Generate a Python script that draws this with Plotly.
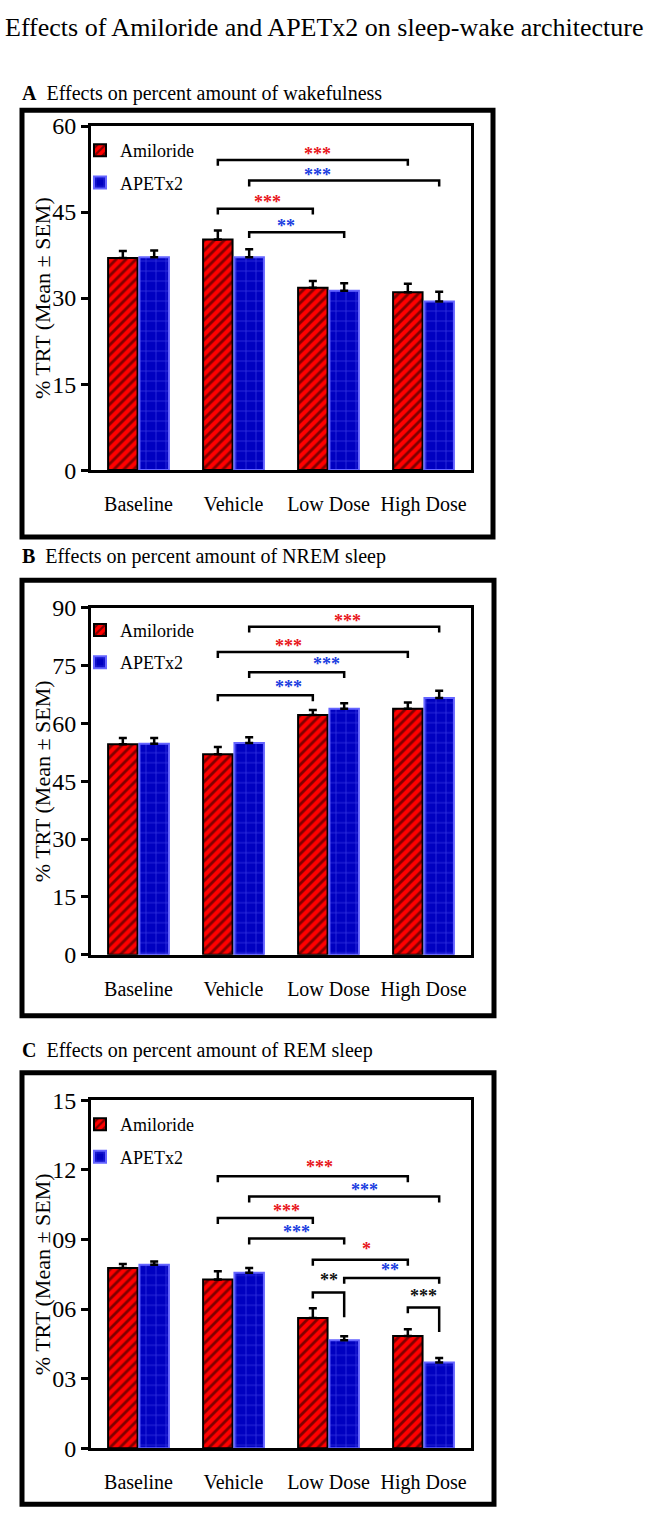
import plotly.graph_objects as go

# ---------------- data ----------------
categories = ["Baseline", "Vehicle", "Low Dose", "High Dose"]
series_names = ["Amiloride", "APETx2"]

wake_amiloride = [37.0, 40.2, 31.8, 31.0]
wake_amiloride_sem = [1.2, 1.6, 1.2, 1.5]
wake_apetx2 = [37.1, 37.1, 31.3, 29.4]
wake_apetx2_sem = [1.2, 1.4, 1.3, 1.7]

nrem_amiloride = [54.6, 52.0, 62.2, 63.8]
nrem_amiloride_sem = [1.6, 1.9, 1.3, 1.6]
nrem_apetx2 = [54.7, 54.9, 63.8, 66.6]
nrem_apetx2_sem = [1.5, 1.5, 1.4, 1.9]

rem_amiloride = [7.77, 7.27, 5.61, 4.84]
rem_amiloride_sem = [0.17, 0.36, 0.42, 0.29]
rem_apetx2 = [7.91, 7.56, 4.66, 3.70]
rem_apetx2_sem = [0.14, 0.21, 0.17, 0.19]

wake_ticks = [0, 15, 30, 45, 60]
wake_ticktext = ["0", "15", "30", "45", "60"]
nrem_ticks = [0, 15, 30, 45, 60, 75, 90]
nrem_ticktext = ["0", "15", "30", "45", "60", "75", "90"]
rem_ticks = [0, 3, 6, 9, 12, 15]
rem_ticktext = ["0", "03", "06", "09", "12", "15"]

# significance brackets: (cat_left, series_left, cat_right, series_right, level, label, color, label_x, label_y, right_leg_px)
wake_sig = [
    (1, 0, 3, 0, 54.1, "***", "red", 1.879, 55.4, 6),
    (1, 1, 3, 1, 50.5, "***", "blue", 1.889, 51.8, 6),
    (1, 0, 2, 0, 45.6, "***", "red", 1.363, 47.1, 6),
    (1, 1, 2, 1, 41.5, "**", "blue", 1.553, 43.0, 6),
]
nrem_sig = [
    (1, 1, 3, 1, 85.1, "***", "red", 2.195, 87.0, 6),
    (1, 0, 3, 0, 78.5, "***", "red", 1.574, 80.6, 6),
    (1, 1, 2, 1, 73.3, "***", "blue", 1.974, 76.0, 6),
    (1, 0, 2, 0, 67.3, "***", "blue", 1.584, 69.9, 6),
]
rem_sig = [
    (1, 0, 3, 0, 11.72, "***", "red", 1.900, 12.2, 6),
    (1, 1, 3, 1, 10.85, "***", "blue", 2.374, 11.23, 6),
    (1, 0, 2, 0, 9.92, "***", "red", 1.563, 10.31, 6),
    (1, 1, 2, 1, 9.04, "***", "blue", 1.658, 9.40, 6),
    (2, 0, 3, 0, 8.12, "*", "red", 2.405, 8.69, 6),
    (2, 1, 3, 1, 7.34, "**", "blue", 2.647, 7.77, 6),
    (2, 0, 2, 1, 6.71, "**", "black", 2.005, 7.33, 25),
    (3, 0, 3, 1, 6.07, "***", "black", 2.995, 6.65, 25),
]

# ---------------- style ----------------
W, H = 647, 1534
FONT = "Liberation Serif, Times New Roman, serif"
RED = "#ff0000"
BLUE_BG = "#0000c0"
BLUE_LINE = "#6464ff"
STAR_COLORS = {"red": "#e8141b", "blue": "#1a3ce0", "black": "#111111"}

PLOT_X = (91, 471)
panels = [
    dict(vals=(wake_amiloride, wake_amiloride_sem, wake_apetx2, wake_apetx2_sem),
         ticks=(wake_ticks, wake_ticktext), rng=(0, 60), ypx=(115, 465), sig=wake_sig,
         box=(22, 99, 493, 533), head=("A", "Effects on percent amount of wakefulness", 82), leg_top=121),
    dict(vals=(nrem_amiloride, nrem_amiloride_sem, nrem_apetx2, nrem_apetx2_sem),
         ticks=(nrem_ticks, nrem_ticktext), rng=(0, 90), ypx=(605, 958), sig=nrem_sig,
         box=(22, 577, 494, 1020), head=("B", "Effects on percent amount of NREM sleep", 553), leg_top=609),
    dict(vals=(rem_amiloride, rem_amiloride_sem, rem_apetx2, rem_apetx2_sem),
         ticks=(rem_ticks, rem_ticktext), rng=(0, 15), ypx=(1106, 1460), sig=rem_sig,
         box=(22, 1078, 494, 1517), head=("C", "Effects on percent amount of REM sleep", 1055), leg_top=1112),
]

BARGAP = 0.34
BARGROUPGAP = 0.06
slot = (1 - BARGAP) / 2
OFFSETS = [-slot / 2, slot / 2]

def px(x):
    return x / W

def py(y):
    return 1 - y / H

fig = go.Figure()
layout = dict(
    width=W, height=H, autosize=False,
    margin=dict(l=0, r=0, t=0, b=0),
    paper_bgcolor="white", plot_bgcolor="white",
    barmode="group", bargap=BARGAP, bargroupgap=BARGROUPGAP,
    font=dict(family=FONT, color="black"),
    shapes=[], annotations=[],
)

xpos = list(range(len(categories)))

for i, p in enumerate(panels):
    n = "" if i == 0 else str(i + 1)
    xa, ya = "x" + n, "y" + n
    leg = "legend" + n
    amil, amil_sem, apx, apx_sem = p["vals"]
    fig.add_trace(go.Bar(
        x=xpos, y=amil, name=series_names[0], xaxis=xa, yaxis=ya, legend=leg,
        legendgroup=f"a{i}",
        marker=dict(color=RED, line=dict(color="black", width=2),
                    pattern=dict(shape="/", fgcolor="black", size=7, solidity=0.4)),
        error_y=dict(type="data", symmetric=False, array=amil_sem, arrayminus=[0] * 4,
                     color="black", thickness=2.5, width=4),
    ))
    fig.add_trace(go.Bar(
        x=xpos, y=apx, name=series_names[1], xaxis=xa, yaxis=ya, legend=leg,
        legendgroup=f"b{i}",
        marker=dict(color=BLUE_BG, line=dict(color=BLUE_LINE, width=2),
                    pattern=dict(shape="+", fgcolor=BLUE_LINE, size=10, solidity=0.15)),
        error_y=dict(type="data", symmetric=False, array=apx_sem, arrayminus=[0] * 4,
                     color="black", thickness=2.5, width=4),
    ))

    # brackets
    y0px, y1px = p["ypx"]
    upx = (y1px - y0px) / (p["rng"][1] - p["rng"][0])  # px per unit
    left_leg = 6 / upx
    bx, by = [], []
    for (cl, sl, cr, sr, lvl, lab, col, lx, ly, rleg) in p["sig"]:
        xl = cl + OFFSETS[sl]
        xr = cr + OFFSETS[sr]
        bx += [xl, xl, xr, xr, None]
        by += [lvl - left_leg, lvl, lvl, lvl - rleg / upx, None]
        layout["annotations"].append(dict(
            x=lx, y=ly, xref=xa, yref=ya, text=f"<b>{lab}</b>", showarrow=False,
            font=dict(family=FONT, size=18, color=STAR_COLORS[col]),
            xanchor="center", yanchor="middle", yshift=-2,
            borderpad=0,
        ))
    fig.add_trace(go.Scatter(x=bx, y=by, xaxis=xa, yaxis=ya, mode="lines",
                             line=dict(color="black", width=2.5), showlegend=False,
                             hoverinfo="skip"))

    layout["xaxis" + n] = dict(
        domain=[px(PLOT_X[0]), px(PLOT_X[1])], anchor=ya, range=[-0.5, 3.5],
        tickvals=xpos, ticktext=categories, ticks="", showgrid=False, zeroline=False,
        showline=True, linecolor="black", linewidth=3, mirror=True,
        tickfont=dict(family=FONT, size=20, color="black"), ticklabelstandoff=14,
        fixedrange=True,
    )
    layout["yaxis" + n] = dict(
        domain=[py(y1px), py(y0px)], anchor=xa, range=list(p["rng"]),
        tickvals=p["ticks"][0], ticktext=p["ticks"][1], ticks="outside", ticklen=7,
        tickwidth=3, tickcolor="black", showgrid=False, zeroline=False,
        showline=True, linecolor="black", linewidth=3, mirror=True,
        tickfont=dict(family=FONT, size=24, color="black"), fixedrange=True,
    )
    layout[leg] = dict(
        x=px(80), y=py(p["leg_top"]), xanchor="left", yanchor="top",
        bgcolor="rgba(0,0,0,0)", borderwidth=0, traceorder="grouped",
        tracegroupgap=6, font=dict(family=FONT, size=18, color="black"),
    )

    # outer box
    x0, yt, x1, yb = p["box"]
    layout["shapes"].append(dict(type="rect", xref="paper", yref="paper",
                                 x0=px(x0), x1=px(x1), y0=py(yb), y1=py(yt),
                                 line=dict(color="black", width=5), fillcolor="rgba(0,0,0,0)"))
    # panel heading
    letter, text, hy = p["head"]
    layout["annotations"].append(dict(
        x=px(20), y=py(hy), xref="paper", yref="paper", xanchor="left", yanchor="middle",
        text=f"<b>{letter}</b>  {text}", showarrow=False,
        font=dict(family=FONT, size=20, color="black"),
    ))
    # y axis title
    layout["annotations"].append(dict(
        x=px(42), y=py((y0px + y1px) / 2), xref="paper", yref="paper",
        xanchor="center", yanchor="middle", textangle=-90,
        text="% TRT (Mean ± SEM)", showarrow=False,
        font=dict(family=FONT, size=22, color="black"),
    ))

layout["annotations"].append(dict(
    x=px(3), y=py(15), xref="paper", yref="paper", xanchor="left", yanchor="middle",
    text="Effects of Amiloride and APETx2 on sleep-wake architecture", showarrow=False,
    font=dict(family=FONT, size=26, color="black"),
))

fig.update_layout(**layout)
fig.write_html(
    "out.html",
    config={"displayModeBar": False},
    post_script="document.body.style.margin='0';document.body.style.overflow='hidden';",
)
